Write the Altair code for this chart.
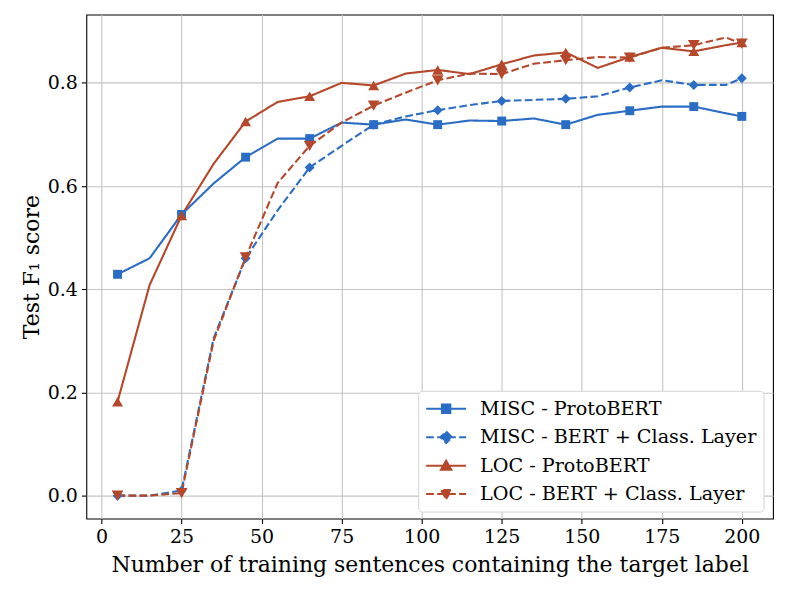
import altair as alt
import pandas as pd

x_vals = [5, 15, 25, 35, 45, 55, 65, 75, 85, 95, 105, 115, 125, 135, 145, 155, 165, 175, 185, 195, 200]
misc_proto = [0.429, 0.460, 0.545, 0.605, 0.656, 0.692, 0.692, 0.723, 0.719, 0.729, 0.719, 0.727,
              0.726, 0.731, 0.719, 0.738, 0.746, 0.754, 0.754, 0.741, 0.735]
misc_bert = [0.0, 0.0, 0.010, 0.305, 0.460, 0.553, 0.636, 0.678, 0.719, 0.735, 0.747, 0.757,
             0.765, 0.767, 0.769, 0.774, 0.791, 0.805, 0.796, 0.796, 0.809]
loc_proto = [0.182, 0.408, 0.543, 0.643, 0.725, 0.763, 0.774, 0.800, 0.795, 0.818, 0.825, 0.817,
             0.836, 0.853, 0.859, 0.829, 0.850, 0.868, 0.861, 0.873, 0.878]
loc_bert = [0.0, 0.0, 0.005, 0.300, 0.462, 0.606, 0.678, 0.723, 0.756, 0.781, 0.805, 0.818,
            0.817, 0.837, 0.844, 0.850, 0.849, 0.868, 0.873, 0.888, 0.876]

series_names = ["MISC - ProtoBERT", "MISC - BERT + Class. Layer",
                "LOC - ProtoBERT", "LOC - BERT + Class. Layer"]
series_values = [misc_proto, misc_bert, loc_proto, loc_bert]
x_ticks = [0, 25, 50, 75, 100, 125, 150, 175, 200]
y_ticks = [0.0, 0.2, 0.4, 0.6, 0.8]

rows = []
for name, vals in zip(series_names, series_values):
    for i, (xv, yv) in enumerate(zip(x_vals, vals)):
        rows.append({"n": xv, "f1": yv, "series": name, "marker": i % 2 == 0})
df = pd.DataFrame(rows)

colors = ["#2b6dc4", "#2b6dc4", "#b5482b", "#b5482b"]
dashes = [[1, 0], [7.7, 3.3], [1, 0], [7.7, 3.3]]
shapes = ["square", "diamond", "triangle-up", "triangle-down"]
sizes = [80, 140, 100, 100]

# legend glyphs: a line segment with the marker in its middle
leg_paths = [
    "M-2,0H2M-0.42,-0.42H0.42V0.42H-0.42Z",
    "M-2,0H2M0,-0.58L0.58,0L0,0.58L-0.58,0Z",
    "M-2,0H2M0,-0.5L0.52,0.42L-0.52,0.42Z",
    "M-2,0H2M0,0.5L0.52,-0.42L-0.52,-0.42Z",
]

FONT = "DejaVu Serif"
sdom = alt.Scale(domain=series_names, range=colors)

legend = alt.Legend(
    orient="none", legendX=332.5, legendY=377, title=None,
    padding=7, strokeColor="#d4d4d4", fillColor="white", cornerRadius=4,
    labelFont=FONT, labelFontSize=19.2, labelColor="black", labelLimit=400,
    symbolSize=400, symbolOffset=10, labelOffset=23, rowPadding=6.5,
    symbolStrokeWidth=2, symbolOpacity=1,
)

xenc = alt.X("n:Q", scale=alt.Scale(domain=[-4.75, 209.75], nice=False, zero=False),
             axis=alt.Axis(values=x_ticks, title="Number of training sentences containing the target label"))
yenc = alt.Y("f1:Q", scale=alt.Scale(domain=[-0.0444, 0.9324], nice=False, zero=False),
             axis=alt.Axis(values=y_ticks, format=".1f", title="Test F₁ score"))

lines = alt.Chart(df).mark_line(strokeWidth=2.1).encode(
    x=xenc, y=yenc,
    color=alt.Color("series:N", scale=sdom, legend=None),
    strokeDash=alt.StrokeDash("series:N", scale=alt.Scale(domain=series_names, range=dashes), legend=None),
    detail="series:N",
)
points = alt.Chart(df).transform_filter(alt.datum.marker).mark_point(filled=True, opacity=1).encode(
    x=xenc, y=yenc,
    color=alt.Color("series:N", scale=sdom, legend=None),
    shape=alt.Shape("series:N", scale=alt.Scale(domain=series_names, range=shapes), legend=None),
    size=alt.Size("series:N", scale=alt.Scale(domain=series_names, range=sizes), legend=None),
)
# legend-only layer: no rows survive the filter, the legend is built from the scale domains
legend_layer = alt.Chart(df).transform_filter("false").mark_point(opacity=1, strokeWidth=2).encode(
    x=xenc, y=yenc,
    fill=alt.Fill("series:N", scale=sdom, legend=legend),
    stroke=alt.Stroke("series:N", scale=sdom, legend=legend),
    shape=alt.Shape("series:N", scale=alt.Scale(domain=series_names, range=leg_paths), legend=legend),
    strokeDash=alt.StrokeDash("series:N", scale=alt.Scale(domain=series_names, range=dashes), legend=legend),
)

chart = alt.layer(lines, points, legend_layer).resolve_scale(
    shape="independent", color="independent", fill="independent",
    stroke="independent", strokeDash="independent",
).properties(
    width=688, height=505,
    autosize=alt.AutoSizeParams(type="none"),
    padding={"left": 78.5, "top": 6, "right": 8, "bottom": 60},
).configure_view(
    stroke="black", strokeWidth=1.1
).configure_axis(
    grid=True, gridColor="#c4c4c4", gridWidth=1.1,
    domain=False, ticks=True, tickColor="black", tickSize=5, tickWidth=1.1,
    labelFont=FONT, labelFontSize=19, labelColor="black", labelPadding=4,
    titleFont=FONT, titleFontSize=22, titleFontWeight="normal", titleColor="black",
).configure_axisX(titlePadding=8).configure_axisY(titlePadding=4)

chart.save("out.html", embed_options={"renderer": "svg", "actions": False})
